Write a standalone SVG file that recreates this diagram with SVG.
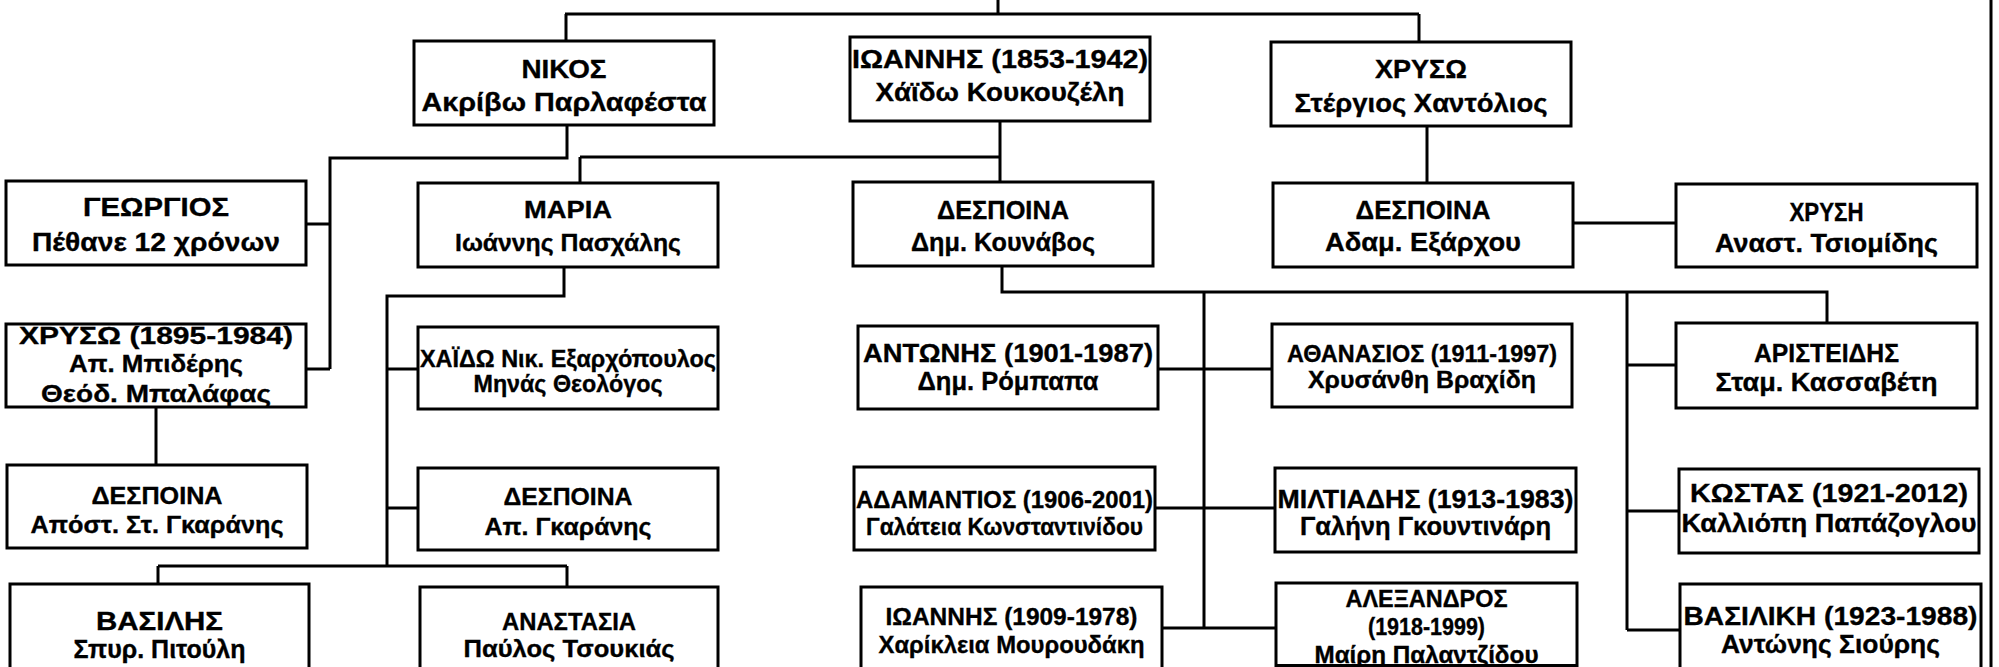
<svg xmlns="http://www.w3.org/2000/svg" width="1999" height="667" viewBox="0 0 1999 667">
<style>
.b{fill:#fff;stroke:#000;stroke-width:3}
.c{fill:none;stroke:#000;stroke-width:3}
text{font-family:"Liberation Sans",Arial,Helvetica,sans-serif;font-weight:bold;text-anchor:middle;fill:#000;stroke:#000;stroke-width:0.35}
</style>
<rect width="1999" height="667" fill="#fff"/>
<g id="connectors">
<path class="c" d="M998 0V14M565 14H1419M566 14V41M1419 14V42"/>
<path class="c" d="M1991 0V667"/>
<path class="c" d="M567 125V158H330V369M306 224H330M306 369H330"/>
<path class="c" d="M1000 121V182M580 157H1000M580 157V183"/>
<path class="c" d="M1427 126V183M1573 223H1676"/>
<path class="c" d="M564 267V296H387V566M387 369H418M387 508H418M158 566H567M158 566V584M567 566V587"/>
<path class="c" d="M156 407V465"/>
<path class="c" d="M1002 266V292H1827V323M1204 292V628M1158 369H1272M1155 508H1275M1162 628H1276"/>
<path class="c" d="M1627 292V630M1627 365H1676M1627 511H1679M1627 630H1680"/>
</g>
<g id="n-nikos"><rect class="b" x="414" y="41" width="300" height="84"/>
<text x="564" y="78" font-size="26.5" textLength="85" lengthAdjust="spacingAndGlyphs">ΝΙΚΟΣ</text>
<text x="564" y="111" font-size="26.5" textLength="285" lengthAdjust="spacingAndGlyphs">Ακρίβω Παρλαφέστα</text></g>
<g id="n-ioannis"><rect class="b" x="850" y="37" width="300" height="84"/>
<text x="1000" y="68" font-size="26.5" textLength="296" lengthAdjust="spacingAndGlyphs">ΙΩΑΝΝΗΣ (1853-1942)</text>
<text x="1000" y="101" font-size="26.5" textLength="249" lengthAdjust="spacingAndGlyphs">Χάϊδω Κουκουζέλη</text></g>
<g id="n-xryso"><rect class="b" x="1271" y="42" width="300" height="84"/>
<text x="1421" y="78" font-size="26.5" textLength="92" lengthAdjust="spacingAndGlyphs">ΧΡΥΣΩ</text>
<text x="1421" y="112" font-size="26.5" textLength="253" lengthAdjust="spacingAndGlyphs">Στέργιος Χαντόλιος</text></g>
<g id="n-georgios"><rect class="b" x="6" y="181" width="300" height="84"/>
<text x="156" y="216" font-size="26.5" textLength="146" lengthAdjust="spacingAndGlyphs">ΓΕΩΡΓΙΟΣ</text>
<text x="156" y="251" font-size="26.5" textLength="248" lengthAdjust="spacingAndGlyphs">Πέθανε 12 χρόνων</text></g>
<g id="n-maria"><rect class="b" x="418" y="183" width="300" height="84"/>
<text x="568" y="218" font-size="24.5" textLength="88" lengthAdjust="spacingAndGlyphs">ΜΑΡΙΑ</text>
<text x="568" y="251" font-size="24.5" textLength="226" lengthAdjust="spacingAndGlyphs">Ιωάννης Πασχάλης</text></g>
<g id="n-despoina-kounavos"><rect class="b" x="853" y="182" width="300" height="84"/>
<text x="1003" y="219" font-size="25.5" textLength="132" lengthAdjust="spacingAndGlyphs">ΔΕΣΠΟΙΝΑ</text>
<text x="1003" y="251" font-size="25.5" textLength="184" lengthAdjust="spacingAndGlyphs">Δημ. Κουνάβος</text></g>
<g id="n-despoina-exarchou"><rect class="b" x="1273" y="183" width="300" height="84"/>
<text x="1423" y="219" font-size="25.5" textLength="135" lengthAdjust="spacingAndGlyphs">ΔΕΣΠΟΙΝΑ</text>
<text x="1423" y="251" font-size="25.5" textLength="196" lengthAdjust="spacingAndGlyphs">Αδαμ. Εξάρχου</text></g>
<g id="n-xrysi"><rect class="b" x="1676" y="184" width="301" height="83"/>
<text x="1826.5" y="221" font-size="25" textLength="74" lengthAdjust="spacingAndGlyphs">ΧΡΥΣΗ</text>
<text x="1826.5" y="252" font-size="25" textLength="223" lengthAdjust="spacingAndGlyphs">Αναστ. Τσιομίδης</text></g>
<g id="n-xryso-1895"><rect class="b" x="6" y="324" width="300" height="83"/>
<text x="156" y="344" font-size="24.5" textLength="274" lengthAdjust="spacingAndGlyphs">ΧΡΥΣΩ (1895-1984)</text>
<text x="156" y="372" font-size="24.5" textLength="174" lengthAdjust="spacingAndGlyphs">Απ. Μπιδέρης</text>
<text x="156" y="402" font-size="24.5" textLength="230" lengthAdjust="spacingAndGlyphs">Θεόδ. Μπαλάφας</text></g>
<g id="n-xaido"><rect class="b" x="418" y="327" width="300" height="82"/>
<text x="568" y="367" font-size="23" textLength="296" lengthAdjust="spacingAndGlyphs">ΧΑΪΔΩ Νικ. Εξαρχόπουλος</text>
<text x="568" y="392" font-size="23" textLength="189" lengthAdjust="spacingAndGlyphs">Μηνάς Θεολόγος</text></g>
<g id="n-antonis"><rect class="b" x="858" y="326" width="300" height="83"/>
<text x="1008" y="362" font-size="26.5" textLength="290" lengthAdjust="spacingAndGlyphs">ΑΝΤΩΝΗΣ (1901-1987)</text>
<text x="1008" y="390" font-size="26.5" textLength="181" lengthAdjust="spacingAndGlyphs">Δημ. Ρόμπαπα</text></g>
<g id="n-athanasios"><rect class="b" x="1272" y="324" width="300" height="83"/>
<text x="1422" y="362" font-size="23" textLength="270" lengthAdjust="spacingAndGlyphs">ΑΘΑΝΑΣΙΟΣ (1911-1997)</text>
<text x="1422" y="388" font-size="23" textLength="228" lengthAdjust="spacingAndGlyphs">Χρυσάνθη Βραχίδη</text></g>
<g id="n-aristeidis"><rect class="b" x="1676" y="323" width="301" height="85"/>
<text x="1826.5" y="362" font-size="25.5" textLength="145" lengthAdjust="spacingAndGlyphs">ΑΡΙΣΤΕΙΔΗΣ</text>
<text x="1826.5" y="391" font-size="25.5" textLength="222" lengthAdjust="spacingAndGlyphs">Σταμ. Κασσαβέτη</text></g>
<g id="n-despoina-apost"><rect class="b" x="7" y="465" width="300" height="83"/>
<text x="157" y="504" font-size="23" textLength="131" lengthAdjust="spacingAndGlyphs">ΔΕΣΠΟΙΝΑ</text>
<text x="157" y="533" font-size="23" textLength="253" lengthAdjust="spacingAndGlyphs">Απόστ. Στ. Γκαράνης</text></g>
<g id="n-despoina-ap"><rect class="b" x="418" y="468" width="300" height="82"/>
<text x="568" y="505" font-size="24.5" textLength="129" lengthAdjust="spacingAndGlyphs">ΔΕΣΠΟΙΝΑ</text>
<text x="568" y="535" font-size="24.5" textLength="167" lengthAdjust="spacingAndGlyphs">Απ. Γκαράνης</text></g>
<g id="n-adamantios"><rect class="b" x="854" y="467" width="301" height="83"/>
<text x="1004.5" y="508" font-size="24" textLength="297" lengthAdjust="spacingAndGlyphs">ΑΔΑΜΑΝΤΙΟΣ (1906-2001)</text>
<text x="1004.5" y="535" font-size="24" textLength="277" lengthAdjust="spacingAndGlyphs">Γαλάτεια Κωνσταντινίδου</text></g>
<g id="n-miltiadis"><rect class="b" x="1275" y="468" width="301" height="84"/>
<text x="1425.5" y="508" font-size="25.5" textLength="296" lengthAdjust="spacingAndGlyphs">ΜΙΛΤΙΑΔΗΣ (1913-1983)</text>
<text x="1425.5" y="535" font-size="25.5" textLength="251" lengthAdjust="spacingAndGlyphs">Γαλήνη Γκουντινάρη</text></g>
<g id="n-kostas"><rect class="b" x="1679" y="469" width="300" height="84"/>
<text x="1829" y="502" font-size="26.5" textLength="278" lengthAdjust="spacingAndGlyphs">ΚΩΣΤΑΣ (1921-2012)</text>
<text x="1829" y="532" font-size="26.5" textLength="295" lengthAdjust="spacingAndGlyphs">Καλλιόπη Παπάζογλου</text></g>
<g id="n-vasilis"><rect class="b" x="10" y="584" width="299" height="90"/>
<text x="159.5" y="630" font-size="25" textLength="127" lengthAdjust="spacingAndGlyphs">ΒΑΣΙΛΗΣ</text>
<text x="159.5" y="658" font-size="25" textLength="172" lengthAdjust="spacingAndGlyphs">Σπυρ. Πιτούλη</text></g>
<g id="n-anastasia"><rect class="b" x="420" y="587" width="298" height="90"/>
<text x="569" y="630" font-size="24.5" textLength="134" lengthAdjust="spacingAndGlyphs">ΑΝΑΣΤΑΣΙΑ</text>
<text x="569" y="657" font-size="24.5" textLength="211" lengthAdjust="spacingAndGlyphs">Παύλος Τσουκιάς</text></g>
<g id="n-ioannis-1909"><rect class="b" x="861" y="587" width="301" height="90"/>
<text x="1011.5" y="625" font-size="24.5" textLength="252" lengthAdjust="spacingAndGlyphs">ΙΩΑΝΝΗΣ (1909-1978)</text>
<text x="1011.5" y="653" font-size="24.5" textLength="266" lengthAdjust="spacingAndGlyphs">Χαρίκλεια Μουρουδάκη</text></g>
<g id="n-alexandros"><rect class="b" x="1276" y="583" width="301" height="82.5"/>
<text x="1426.5" y="607" font-size="23" textLength="162" lengthAdjust="spacingAndGlyphs">ΑΛΕΞΑΝΔΡΟΣ</text>
<text x="1426.5" y="635" font-size="23" textLength="117" lengthAdjust="spacingAndGlyphs">(1918-1999)</text>
<text x="1426.5" y="663" font-size="23" textLength="224" lengthAdjust="spacingAndGlyphs">Μαίρη Παλαντζίδου</text></g>
<g id="n-vasiliki"><rect class="b" x="1680" y="584" width="301" height="90"/>
<text x="1830.5" y="625" font-size="26.5" textLength="294" lengthAdjust="spacingAndGlyphs">ΒΑΣΙΛΙΚΗ (1923-1988)</text>
<text x="1830.5" y="653" font-size="26.5" textLength="219" lengthAdjust="spacingAndGlyphs">Αντώνης Σιούρης</text></g>
</svg>
